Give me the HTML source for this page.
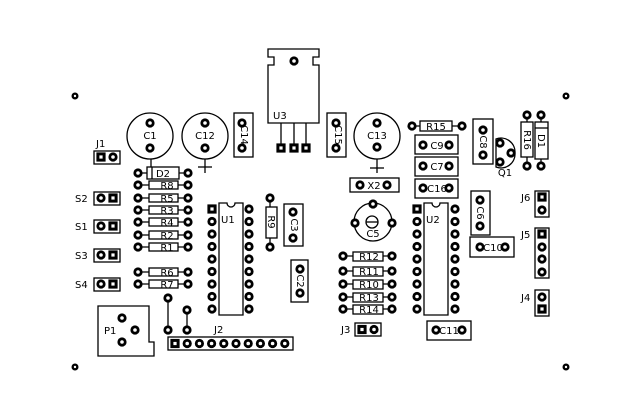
<!DOCTYPE html>
<html><head><meta charset="utf-8"><style>
html,body{margin:0;padding:0;background:#fff}
svg{display:block}
text{font-family:"DejaVu Sans","Liberation Sans",sans-serif;font-size:10px;fill:#000}
</style></head><body>
<svg width="640" height="420" viewBox="0 0 640 420" xmlns="http://www.w3.org/2000/svg">
<defs>
<g id="p"><circle r="4.6" fill="#000"/><circle r="1.8" fill="#fff"/></g>
<g id="q"><rect x="-4.6" y="-4.6" width="9.2" height="9.2" fill="#000"/><rect x="-1.6" y="-1.6" width="3.2" height="3.2" fill="#fff"/></g>
<g id="h"><circle r="3.5" fill="#000"/><circle r="1.2" fill="#fff"/></g>
</defs>
<g fill="none" stroke="#000" stroke-width="1.3">
<!-- mounting holes -->
</g>
<use href="#h" x="75" y="96"/><use href="#h" x="566" y="96"/><use href="#h" x="75" y="367"/><use href="#h" x="566" y="367"/>

<g fill="#fff" stroke="#000" stroke-width="1.3">
<!-- C1, C12, C13 -->
<circle cx="150" cy="136" r="23"/>
<circle cx="205" cy="136" r="23"/>
<circle cx="377" cy="136" r="23"/>
<line x1="151" y1="159" x2="151" y2="173"/>
<line x1="205" y1="159" x2="205" y2="173"/><line x1="198" y1="167" x2="212" y2="167"/>
<line x1="377" y1="159" x2="377" y2="173"/><line x1="370" y1="168" x2="384" y2="168"/>
<!-- C14, C15 -->
<rect x="234" y="113" width="19" height="44"/>
<rect x="327" y="113" width="19" height="44"/>
<!-- U3 -->
<path d="M268 49 H319 V57 H313 V65 H319 V123 H268 V65 H274 V57 H268 Z"/>
<line x1="281" y1="123" x2="281" y2="148"/><line x1="294" y1="123" x2="294" y2="148"/><line x1="306" y1="123" x2="306" y2="148"/>
<!-- J1 -->
<rect x="94" y="151" width="26" height="13"/>
<!-- S boxes -->
<rect x="94" y="192" width="26" height="13"/>
<rect x="94" y="220" width="26" height="13"/>
<rect x="94" y="249" width="26" height="13"/>
<rect x="94" y="278" width="26" height="13"/>
<!-- resistor wires -->
<line x1="138" y1="173" x2="188" y2="173"/>
<line x1="138" y1="185" x2="188" y2="185"/>
<line x1="138" y1="198" x2="188" y2="198"/>
<line x1="138" y1="210" x2="188" y2="210"/>
<line x1="138" y1="222" x2="188" y2="222"/>
<line x1="138" y1="235" x2="188" y2="235"/>
<line x1="138" y1="247" x2="188" y2="247"/>
<line x1="138" y1="272" x2="188" y2="272"/>
<line x1="138" y1="284" x2="188" y2="284"/>
<rect x="147" y="167" width="32" height="12"/>
<line x1="152" y1="167" x2="152" y2="179"/>
<rect x="149" y="181" width="29" height="8"/>
<rect x="149" y="194" width="29" height="8"/>
<rect x="149" y="206" width="29" height="8"/>
<rect x="149" y="218" width="29" height="8"/>
<rect x="149" y="231" width="29" height="8"/>
<rect x="149" y="243" width="29" height="8"/>
<rect x="149" y="268" width="29" height="8"/>
<rect x="149" y="280" width="29" height="8"/>
<!-- U1 -->
<path d="M219 203 H227 A4 4 0 0 0 235 203 H243 V315 H219 Z"/>
<!-- R9 -->
<line x1="270" y1="198" x2="270" y2="247"/>
<rect x="266" y="207" width="11" height="31"/>
<!-- C3, C2 -->
<rect x="284" y="204" width="19" height="42"/>
<rect x="291" y="260" width="17" height="42"/>
<!-- P1 -->
<path d="M98 306 H149 V342 H154 V356 H98 Z"/>
<!-- wires -->
<line x1="168" y1="298" x2="168" y2="330"/>
<line x1="187" y1="310" x2="187" y2="330"/>
<!-- J2 -->
<rect x="168" y="337" width="125" height="13"/>
<!-- R15 -->
<line x1="412" y1="126" x2="462" y2="126"/>
<rect x="420" y="121" width="32" height="10"/>
<!-- C9 C7 C16 -->
<rect x="415" y="135" width="43" height="19"/>
<rect x="415" y="157" width="43" height="19"/>
<rect x="415" y="179" width="43" height="19"/>
<!-- X2 -->
<rect x="350" y="178" width="49" height="14"/>
<!-- C5 -->
<circle cx="373" cy="222" r="19"/>
<circle cx="372" cy="222" r="6"/><line x1="366" y1="222" x2="378" y2="222"/>
<!-- R10-14 -->
<line x1="343" y1="256" x2="392" y2="256"/>
<line x1="343" y1="271" x2="392" y2="271"/>
<line x1="343" y1="284" x2="392" y2="284"/>
<line x1="343" y1="297" x2="392" y2="297"/>
<line x1="343" y1="309" x2="392" y2="309"/>
<rect x="353" y="252" width="30" height="9"/>
<rect x="353" y="267" width="30" height="9"/>
<rect x="353" y="280" width="30" height="9"/>
<rect x="353" y="293" width="30" height="9"/>
<rect x="353" y="305" width="30" height="9"/>
<!-- U2 -->
<path d="M424 203 H432 A4 4 0 0 0 440 203 H448 V315 H424 Z"/>
<!-- J3 -->
<rect x="355" y="323" width="26" height="13"/>
<!-- C11 -->
<rect x="427" y="321" width="44" height="19"/>
<!-- C8 -->
<rect x="473" y="119" width="20" height="45"/>
<!-- Q1 -->
<path d="M496 139 A14 14 0 0 1 515 153 A14 14 0 0 1 496 167 Z"/>
<!-- R16 D1 -->
<line x1="527" y1="115" x2="527" y2="166"/>
<rect x="521" y="122" width="12" height="35"/>
<line x1="541" y1="115" x2="541" y2="166"/>
<rect x="535" y="122" width="13" height="37"/>
<line x1="535" y1="128" x2="548" y2="128"/>
<!-- C6 C10 -->
<rect x="471" y="191" width="19" height="44"/>
<rect x="470" y="237" width="44" height="20"/>
<!-- J6 J5 J4 -->
<rect x="535" y="191" width="14" height="26"/>
<rect x="535" y="228" width="14" height="50"/>
<rect x="535" y="290" width="14" height="26"/>
</g>

<!-- pads -->
<use href="#p" x="150" y="123"/><use href="#p" x="150" y="148"/>
<use href="#p" x="205" y="123"/><use href="#p" x="205" y="148"/>
<use href="#p" x="377" y="123"/><use href="#p" x="377" y="147"/>
<use href="#p" x="242" y="123"/><use href="#p" x="242" y="148"/>
<use href="#p" x="336" y="123"/><use href="#p" x="336" y="148"/>
<use href="#p" x="294" y="61"/>
<use href="#q" x="281" y="148"/><use href="#q" x="294" y="148"/><use href="#q" x="306" y="148"/>
<use href="#q" x="101" y="157"/><use href="#p" x="113" y="157"/>
<use href="#p" x="101" y="198"/><use href="#q" x="113" y="198"/>
<use href="#p" x="101" y="226"/><use href="#q" x="113" y="226"/>
<use href="#p" x="101" y="255"/><use href="#q" x="113" y="255"/>
<use href="#p" x="101" y="284"/><use href="#q" x="113" y="284"/>
<g>
<use href="#p" x="138" y="173"/><use href="#p" x="188" y="173"/>
<use href="#p" x="138" y="185"/><use href="#p" x="188" y="185"/>
<use href="#p" x="138" y="198"/><use href="#p" x="188" y="198"/>
<use href="#p" x="138" y="210"/><use href="#p" x="188" y="210"/>
<use href="#p" x="138" y="222"/><use href="#p" x="188" y="222"/>
<use href="#p" x="138" y="235"/><use href="#p" x="188" y="235"/>
<use href="#p" x="138" y="247"/><use href="#p" x="188" y="247"/>
<use href="#p" x="138" y="272"/><use href="#p" x="188" y="272"/>
<use href="#p" x="138" y="284"/><use href="#p" x="188" y="284"/>
</g>
<!-- U1 pads -->
<use href="#q" x="212" y="209"/><use href="#p" x="212" y="221.5"/><use href="#p" x="212" y="234"/><use href="#p" x="212" y="246.5"/><use href="#p" x="212" y="259"/><use href="#p" x="212" y="271.5"/><use href="#p" x="212" y="284"/><use href="#p" x="212" y="296.5"/><use href="#p" x="212" y="309"/>
<use href="#p" x="249" y="209"/><use href="#p" x="249" y="221.5"/><use href="#p" x="249" y="234"/><use href="#p" x="249" y="246.5"/><use href="#p" x="249" y="259"/><use href="#p" x="249" y="271.5"/><use href="#p" x="249" y="284"/><use href="#p" x="249" y="296.5"/><use href="#p" x="249" y="309"/>
<use href="#p" x="270" y="198"/><use href="#p" x="270" y="247"/>
<use href="#p" x="293" y="212"/><use href="#p" x="293" y="238"/>
<use href="#p" x="300" y="269"/><use href="#p" x="300" y="293"/>
<use href="#p" x="122" y="318"/><use href="#p" x="135" y="330"/><use href="#p" x="122" y="342"/>
<use href="#p" x="168" y="298"/><use href="#p" x="168" y="330"/><use href="#p" x="187" y="310"/><use href="#p" x="187" y="330"/>
<!-- J2 pads -->
<use href="#q" x="175" y="343.5"/><use href="#p" x="187.2" y="343.5"/><use href="#p" x="199.4" y="343.5"/><use href="#p" x="211.6" y="343.5"/><use href="#p" x="223.8" y="343.5"/><use href="#p" x="236" y="343.5"/><use href="#p" x="248.2" y="343.5"/><use href="#p" x="260.4" y="343.5"/><use href="#p" x="272.6" y="343.5"/><use href="#p" x="284.8" y="343.5"/>
<!-- right side -->
<use href="#p" x="412" y="126"/><use href="#p" x="462" y="126"/>
<use href="#p" x="423" y="145"/><use href="#p" x="449" y="145"/>
<use href="#p" x="423" y="166"/><use href="#p" x="449" y="166"/>
<use href="#p" x="423" y="188"/><use href="#p" x="449" y="188"/>
<use href="#p" x="360" y="185"/><use href="#p" x="387" y="185"/>
<use href="#p" x="373" y="204"/><use href="#p" x="355" y="223"/><use href="#p" x="392" y="223"/>
<use href="#p" x="343" y="256"/><use href="#p" x="392" y="256"/>
<use href="#p" x="343" y="271"/><use href="#p" x="392" y="271"/>
<use href="#p" x="343" y="284"/><use href="#p" x="392" y="284"/>
<use href="#p" x="343" y="297"/><use href="#p" x="392" y="297"/>
<use href="#p" x="343" y="309"/><use href="#p" x="392" y="309"/>
<use href="#q" x="417" y="209"/><use href="#p" x="417" y="221.5"/><use href="#p" x="417" y="234"/><use href="#p" x="417" y="246.5"/><use href="#p" x="417" y="259"/><use href="#p" x="417" y="271.5"/><use href="#p" x="417" y="284"/><use href="#p" x="417" y="296.5"/><use href="#p" x="417" y="309"/>
<use href="#p" x="455" y="209"/><use href="#p" x="455" y="221.5"/><use href="#p" x="455" y="234"/><use href="#p" x="455" y="246.5"/><use href="#p" x="455" y="259"/><use href="#p" x="455" y="271.5"/><use href="#p" x="455" y="284"/><use href="#p" x="455" y="296.5"/><use href="#p" x="455" y="309"/>
<use href="#q" x="362" y="329.5"/><use href="#p" x="374" y="329.5"/>
<use href="#p" x="436" y="330"/><use href="#p" x="462" y="330"/>
<use href="#p" x="483" y="130"/><use href="#p" x="483" y="155"/>
<use href="#p" x="500" y="143"/><use href="#p" x="511" y="153"/><use href="#p" x="500" y="162"/>
<use href="#p" x="527" y="115"/><use href="#p" x="527" y="166"/>
<use href="#p" x="541" y="115"/><use href="#p" x="541" y="166"/>
<use href="#p" x="480" y="200"/><use href="#p" x="480" y="226"/>
<use href="#p" x="480" y="247"/><use href="#p" x="505" y="247"/>
<use href="#q" x="542" y="197"/><use href="#p" x="542" y="210"/>
<use href="#q" x="542" y="234"/><use href="#p" x="542" y="247"/><use href="#p" x="542" y="259"/><use href="#p" x="542" y="272"/>
<use href="#p" x="542" y="297"/><use href="#q" x="542" y="309"/>

<!-- labels -->
<g text-anchor="middle">
<text x="150" y="139">C1</text>
<text x="205" y="139">C12</text>
<text x="377" y="139">C13</text>
<text x="163" y="177">D2</text>
<text x="167" y="189" font-size="9">R8</text>
<text x="167" y="202" font-size="9">R5</text>
<text x="167" y="214" font-size="9">R3</text>
<text x="167" y="226" font-size="9">R4</text>
<text x="167" y="239" font-size="9">R2</text>
<text x="167" y="251" font-size="9">R1</text>
<text x="167" y="276" font-size="9">R6</text>
<text x="167" y="288" font-size="9">R7</text>
<text x="369" y="260" font-size="9">R12</text>
<text x="369" y="275" font-size="9">R11</text>
<text x="369" y="288" font-size="9">R10</text>
<text x="369" y="301" font-size="9">R13</text>
<text x="369" y="313" font-size="9">R14</text>
<text x="436" y="130" font-size="9">R15</text>
<text x="437" y="149">C9</text>
<text x="437" y="170">C7</text>
<text x="437" y="192">C16</text>
<text x="374" y="189">X2</text>
<text x="373" y="237">C5</text>
<text x="449" y="334">C11</text>
<text x="493" y="251">C10</text>
<text x="505" y="176" font-size="9">Q1</text>
</g>
<text x="96" y="147" font-size="9">J1</text>
<text x="75" y="202">S2</text>
<text x="75" y="230">S1</text>
<text x="75" y="259">S3</text>
<text x="75" y="288">S4</text>
<text x="221" y="223">U1</text>
<text x="426" y="223">U2</text>
<text x="273" y="119">U3</text>
<text x="104" y="334">P1</text>
<text x="214" y="333">J2</text>
<text x="341" y="333">J3</text>
<text x="521" y="201">J6</text>
<text x="521" y="238">J5</text>
<text x="521" y="301">J4</text>
<g text-anchor="middle" font-size="9">
<text transform="translate(244,135) rotate(90)" y="3">C14</text>
<text transform="translate(338,135) rotate(90)" y="3">C15</text>
<text transform="translate(483,142) rotate(90)" y="3">C8</text>
<text transform="translate(527,140) rotate(90)" y="3">R16</text>
<text transform="translate(541,141) rotate(90)" y="3">D1</text>
<text transform="translate(480,213) rotate(90)" y="3">C6</text>
<text transform="translate(271,222) rotate(90)" y="3">R9</text>
<text transform="translate(294,225) rotate(90)" y="3">C3</text>
<text transform="translate(300,281) rotate(90)" y="3">C2</text>
</g>
</svg>
</body></html>
